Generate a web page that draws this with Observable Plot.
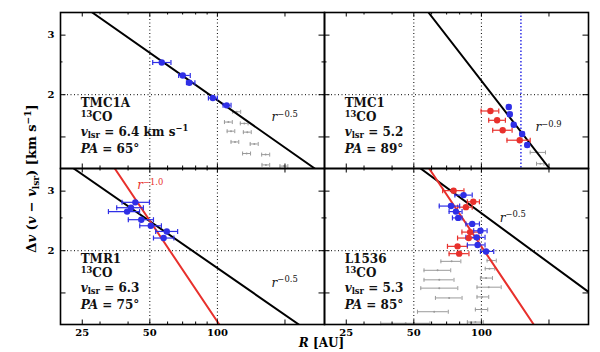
<!DOCTYPE html>
<html><head><meta charset="utf-8">
<script src="https://cdn.jsdelivr.net/npm/d3@7"></script>
<script src="https://cdn.jsdelivr.net/npm/@observablehq/plot@0.6"></script>
<style>
html,body{margin:0;padding:0;background:#fff;}
#chart svg{display:block;overflow:visible}
</style></head><body><div id="chart"></div>
<script>
// ---------- data ----------
const panels = ["TMC1A", "TMC1", "TMR1", "L1536"];
const panelFx = ["L", "R", "L", "R"];
const panelFy = ["T", "T", "B", "B"];
const vlsr = ["6.4 km s^{−1}", "5.2", "6.3", "5.3"];
const posAngle = [65, 89, 75, 85];

// [R (AU), Δv (km/s), R low, R high]
const tmc1aBlue = [[56.5,2.49,51.5,62.1],[70.1,2.28,67.2,75.7],[75,2.17,72.8,79.4],[95.4,1.955,91.2,100],[110,1.86,106,115]];
const tmc1aGrey = [[121.9,1.78,117,127],[111.9,1.66,107.5,116.5],[131.8,1.645,126.5,137],[115,1.56,110.5,119.5],[135.9,1.55,130.5,141.5],[119.8,1.45,115,124.5],[146,1.43,140,152],[135,1.34,129.5,140.5],[164,1.33,157.5,171],[164.5,1.24,158,171],[198,1.23,190,206]];
const tmc1Red = [[109.7,1.79,99.7,119.5],[117.5,1.68,107.8,127.9],[124.4,1.57,112.3,137],[148.2,1.467,130,165]];
const tmc1Blue = [[132.4,1.84,130,135],[133.8,1.75,131,136.5],[139.3,1.63,136.5,142],[151.9,1.53,149,155],[160,1.42,157,163]];
const tmc1Grey = [[178,1.35,165,193],[183,1.25,176,190]];
const tmr1Blue = [[43.1,2.78,37.6,49.8],[41.2,2.68,35.6,46.8],[39.6,2.61,32.7,45],[45.8,2.47,40.1,51.9],[50.5,2.37,45.1,56.3],[59.5,2.28,53.1,66.5],[57.6,2.18,51.9,64]];
const l1536Red = [[75.2,3.01,67.2,83.6],[92,2.79,86.6,98],[85.3,2.69,78.3,91],[89.1,2.27,81.9,97.5],[87.8,2.18,78.3,98],[78.3,2.06,70.6,86.6],[79.6,1.96,71.8,88]];
const l1536Blue = [[83.3,2.92,76.2,91],[73.2,2.71,64.9,80],[77,2.61,71.8,82],[78.8,2.50,74.3,82],[91,2.40,85.3,98],[99,2.29,92.4,106],[95.2,2.19,85.3,103.8],[96.2,2.08,86.6,103.8],[104.9,1.99,99,113.5]];
const l1536Grey = [[111,1.87,106,116.5],[73.7,1.86,66,81],[108.6,1.77,104,114.7],[63.8,1.75,55.5,73],[104.9,1.66,99,112],[64.9,1.64,55.5,75.5],[107.8,1.56,95.6,122.5],[64.9,1.55,53.7,78.5],[71.8,1.45,62.4,82],[100.7,1.46,95.6,107.8],[100,1.34,94,106.7],[61.6,1.32,51.9,71.2],[94,1.23,86.6,102],[46,1.22,35.6,59]];

// power-law lines: end points [R, Δv]
const tmc1aFit = [[27.7,3.5],[271.5,1.21]];
const tmc1Fit = [[58.1,3.5],[201,1.21]];
const tmr1Fit = [[22.9,3.5],[230.6,1.21]];
const tmr1Steep = [[34.9,3.5],[102,1.21]];
const l1536Fit = [[53.6,3.5],[300,1.51]];
const l1536Steep = [[58.5,3.5],[171,1.21]];

// power-law labels
const slopeText = ["$r$^{−0.5}", "$r$^{−0.9}", "$r$^{−0.5}", "$r$^{−1.0}", "$r$^{−0.5}"];
const slopePanel = [0, 1, 2, 2, 3];
const slopeR = [174.4, 174, 174.4, 43.9, 120.7];
const slopeV = [1.716, 1.602, 1.608, 3.12, 2.50];
const slopeRed = [false, false, false, true, false];

// info-label anchor (data coords)
const infoR = 24.6;
const infoV = [1.890, 1.713, 1.553, 1.380];

// ticks
const xLabelTicks = [25, 50, 100];
const xMajor = [25, 50, 100, 200];
const xMinor = [30, 40, 60, 70, 80, 90];
const yLabelTicks = [2, 3];
const yMajor = [1.5, 2, 3];
const yMinor = [2.5];
const xGrid = [50, 100];
const yGrid = [2];
const tmc1Marker = [150];

// ---------- build ----------
const blue = "#2f2fe6", red = "#e8302c", grey = "#9a9a9a";
const font = "DejaVu Serif";
const W = 600, H = 352, mL = 59, mR = 12, mT = 11, mB = 28;
const PW = (W - mL - mR) / 2, PH = (H - mT - mB) / 2;

const tbl = (arr, i) => arr.map(([R, v, lo, hi]) => ({R, v, lo, hi, fx: panelFx[i], fy: panelFy[i]}));
const blueRows = [...tbl(tmc1aBlue,0), ...tbl(tmc1Blue,1), ...tbl(tmr1Blue,2), ...tbl(l1536Blue,3)];
const redRows = [...tbl(tmc1Red,1), ...tbl(l1536Red,3)];
const greyRows = [...tbl(tmc1aGrey,0), ...tbl(tmc1Grey,1), ...tbl(l1536Grey,3)];

const fits = [[tmc1aFit,0,false],[tmc1Fit,1,false],[tmr1Fit,2,false],[tmr1Steep,2,true],[l1536Fit,3,false],[l1536Steep,3,true]];
const fitRows = fits.flatMap(([pts, i, isRed], k) => pts.map(([R, v]) => ({R, v, id: k, isRed, fx: panelFx[i], fy: panelFy[i]})));

const infoRows = panels.flatMap((name, i) =>
  [name, "^{13}CO", `$v$_{lsr} = ${vlsr[i]}`, `$PA$ = ${posAngle[i]}°`]
    .map((t, k) => ({t, R: infoR, v: infoV[k], fx: panelFx[i], fy: panelFy[i]})));
const slopeRows = slopeText.map((t, k) => ({t, R: slopeR[k], v: slopeV[k], isRed: slopeRed[k], fx: panelFx[slopePanel[k]], fy: panelFy[slopePanel[k]]}));

const vbar = {draw(ctx, size) { const h = Math.sqrt(size / Math.PI); ctx.moveTo(0, -h); ctx.lineTo(0, h); }};

function errMarks(rows, color, capR, sw) {
  const o = {fx: "fx", fy: "fy"};
  return [
    Plot.ruleY(rows, {...o, y: "v", x1: "lo", x2: "hi", stroke: color, strokeWidth: sw}),
    Plot.dot(rows, {...o, x: "lo", y: "v", symbol: vbar, r: capR, stroke: color, strokeWidth: sw, fill: "none"}),
    Plot.dot(rows, {...o, x: "hi", y: "v", symbol: vbar, r: capR, stroke: color, strokeWidth: sw, fill: "none"})
  ];
}

const chart = Plot.plot({
  width: W, height: H,
  marginLeft: mL, marginRight: mR, marginTop: mT, marginBottom: mB,
  x: {type: "log", domain: [20, 300]},
  y: {type: "log", domain: [1.21, 3.5]},
  fx: {domain: ["L", "R"], padding: 0, axis: null},
  fy: {domain: ["T", "B"], padding: 0, axis: null},
  style: {fontFamily: font, background: "white", color: "black"},
  marks: [
    Plot.ruleX(xGrid, {x: d => d, stroke: "black", strokeWidth: 1, strokeDasharray: "1,2.5"}),
    Plot.ruleY(yGrid, {y: d => d, stroke: "black", strokeWidth: 1, strokeDasharray: "1,2.5"}),
    Plot.ruleX(tmc1Marker.map(R => ({R, fx: "R", fy: "T"})), {x: "R", fx: "fx", fy: "fy", stroke: blue, strokeWidth: 1.5, strokeDasharray: "1.5,2"}),
    ...errMarks(greyRows, grey, 2, 1),
    Plot.dot(greyRows, {fx: "fx", fy: "fy", x: "R", y: "v", r: 1, fill: grey}),
    Plot.line(fitRows.filter(d => !d.isRed), {fx: "fx", fy: "fy", x: "R", y: "v", z: "id", stroke: "black", strokeWidth: 2, clip: true}),
    Plot.line(fitRows.filter(d => d.isRed), {fx: "fx", fy: "fy", x: "R", y: "v", z: "id", stroke: red, strokeWidth: 2, clip: true}),
    ...errMarks(redRows, red, 2.5, 1.2),
    ...errMarks(blueRows, blue, 2.5, 1.2),
    Plot.dot(redRows, {fx: "fx", fy: "fy", x: "R", y: "v", r: 3.2, fill: red}),
    Plot.dot(blueRows, {fx: "fx", fy: "fy", x: "R", y: "v", r: 3.2, fill: blue}),
    Plot.text(infoRows, {fx: "fx", fy: "fy", x: "R", y: "v", text: "t", textAnchor: "start", fontSize: 12, fontWeight: "bold", fill: "#111"}),
    Plot.text(slopeRows.filter(d => !d.isRed), {fx: "fx", fy: "fy", x: "R", y: "v", text: "t", textAnchor: "start", fontSize: 12, fill: "#111"}),
    Plot.text(slopeRows.filter(d => d.isRed), {fx: "fx", fy: "fy", x: "R", y: "v", text: "t", textAnchor: "start", fontSize: 12, fill: red}),
    Plot.tickX(xMajor, {x: d => d, insetTop: PH - 5, stroke: "black"}),
    Plot.tickX(xMajor, {x: d => d, insetBottom: PH - 5, stroke: "black"}),
    Plot.tickX(xMinor, {x: d => d, insetTop: PH - 3, stroke: "black"}),
    Plot.tickX(xMinor, {x: d => d, insetBottom: PH - 3, stroke: "black"}),
    Plot.tickY(yMajor, {y: d => d, insetRight: PW - 6, stroke: "black"}),
    Plot.tickY(yMajor, {y: d => d, insetLeft: PW - 6, stroke: "black"}),
    Plot.tickY(yMinor, {y: d => d, insetRight: PW - 3, stroke: "black"}),
    Plot.tickY(yMinor, {y: d => d, insetLeft: PW - 3, stroke: "black"}),
    Plot.frame({stroke: "black", strokeWidth: 1.6}),
    Plot.axisX({ticks: xLabelTicks, tickFormat: d => String(d), tickSize: 0, tickPadding: 4, label: null, fontSize: 10, fontWeight: "bold", fontFamily: font}),
    Plot.axisY({ticks: yLabelTicks, tickFormat: d => String(d), tickSize: 0, tickPadding: 6, label: null, fontSize: 10, fontWeight: "bold", fontFamily: font}),
    Plot.text([{fx: "L", fy: "B", t: "Δ$v$ ($v$ − $v$_{lsr}) [km s^{−1}]"}], {fx: "fx", fy: "fy", text: "t", frameAnchor: "top-left", rotate: -90, dx: -34, dy: 10, fontSize: 13, fontWeight: "bold", textAnchor: "middle"}),
    Plot.text([{fx: "R", fy: "B", t: "$R$ [AU]"}], {fx: "fx", fy: "fy", text: "t", frameAnchor: "bottom-left", dx: -3, dy: 22, fontSize: 12, fontWeight: "bold", textAnchor: "middle"})
  ]
});

document.getElementById("chart").appendChild(chart);

// rich text: $..$ italic, ^{..} superscript, _{..} subscript
function richText(svg) {
  const NS = "http://www.w3.org/2000/svg";
  for (const t of svg.querySelectorAll("text")) {
    const s = t.textContent;
    if (!/[$^_]/.test(s) || t.querySelector("tspan")) continue;
    const fs = parseFloat(getComputedStyle(t).fontSize) || 12;
    const segs = [];
    let italic = false, buf = "";
    const flush = () => { if (buf) segs.push({text: buf, italic, shift: 0}); buf = ""; };
    for (let i = 0; i < s.length; i++) {
      const c = s[i];
      if (c === "$") { flush(); italic = !italic; continue; }
      if ((c === "^" || c === "_") && s[i + 1] === "{") {
        flush();
        const j = s.indexOf("}", i);
        segs.push({text: s.slice(i + 2, j), italic: false, shift: c === "^" ? -0.36 : 0.22});
        i = j; continue;
      }
      buf += c;
    }
    flush();
    const dyAttr = t.getAttribute("dy");
    let baseDy = 0;
    if (dyAttr) baseDy = dyAttr.endsWith("em") ? parseFloat(dyAttr) * fs : parseFloat(dyAttr);
    t.removeAttribute("dy");
    t.textContent = "";
    let cur = 0, first = true;
    for (const g of segs) {
      const ts = document.createElementNS(NS, "tspan");
      const target = g.shift * fs;
      const dy = (target - cur) + (first ? baseDy : 0);
      if (dy !== 0) ts.setAttribute("dy", dy);
      cur = target; first = false;
      if (g.shift) ts.setAttribute("font-size", fs * 0.7);
      if (g.italic) ts.setAttribute("font-style", "italic");
      ts.textContent = g.text;
      t.appendChild(ts);
    }
  }
}
richText(chart);
</script>
</body></html>
